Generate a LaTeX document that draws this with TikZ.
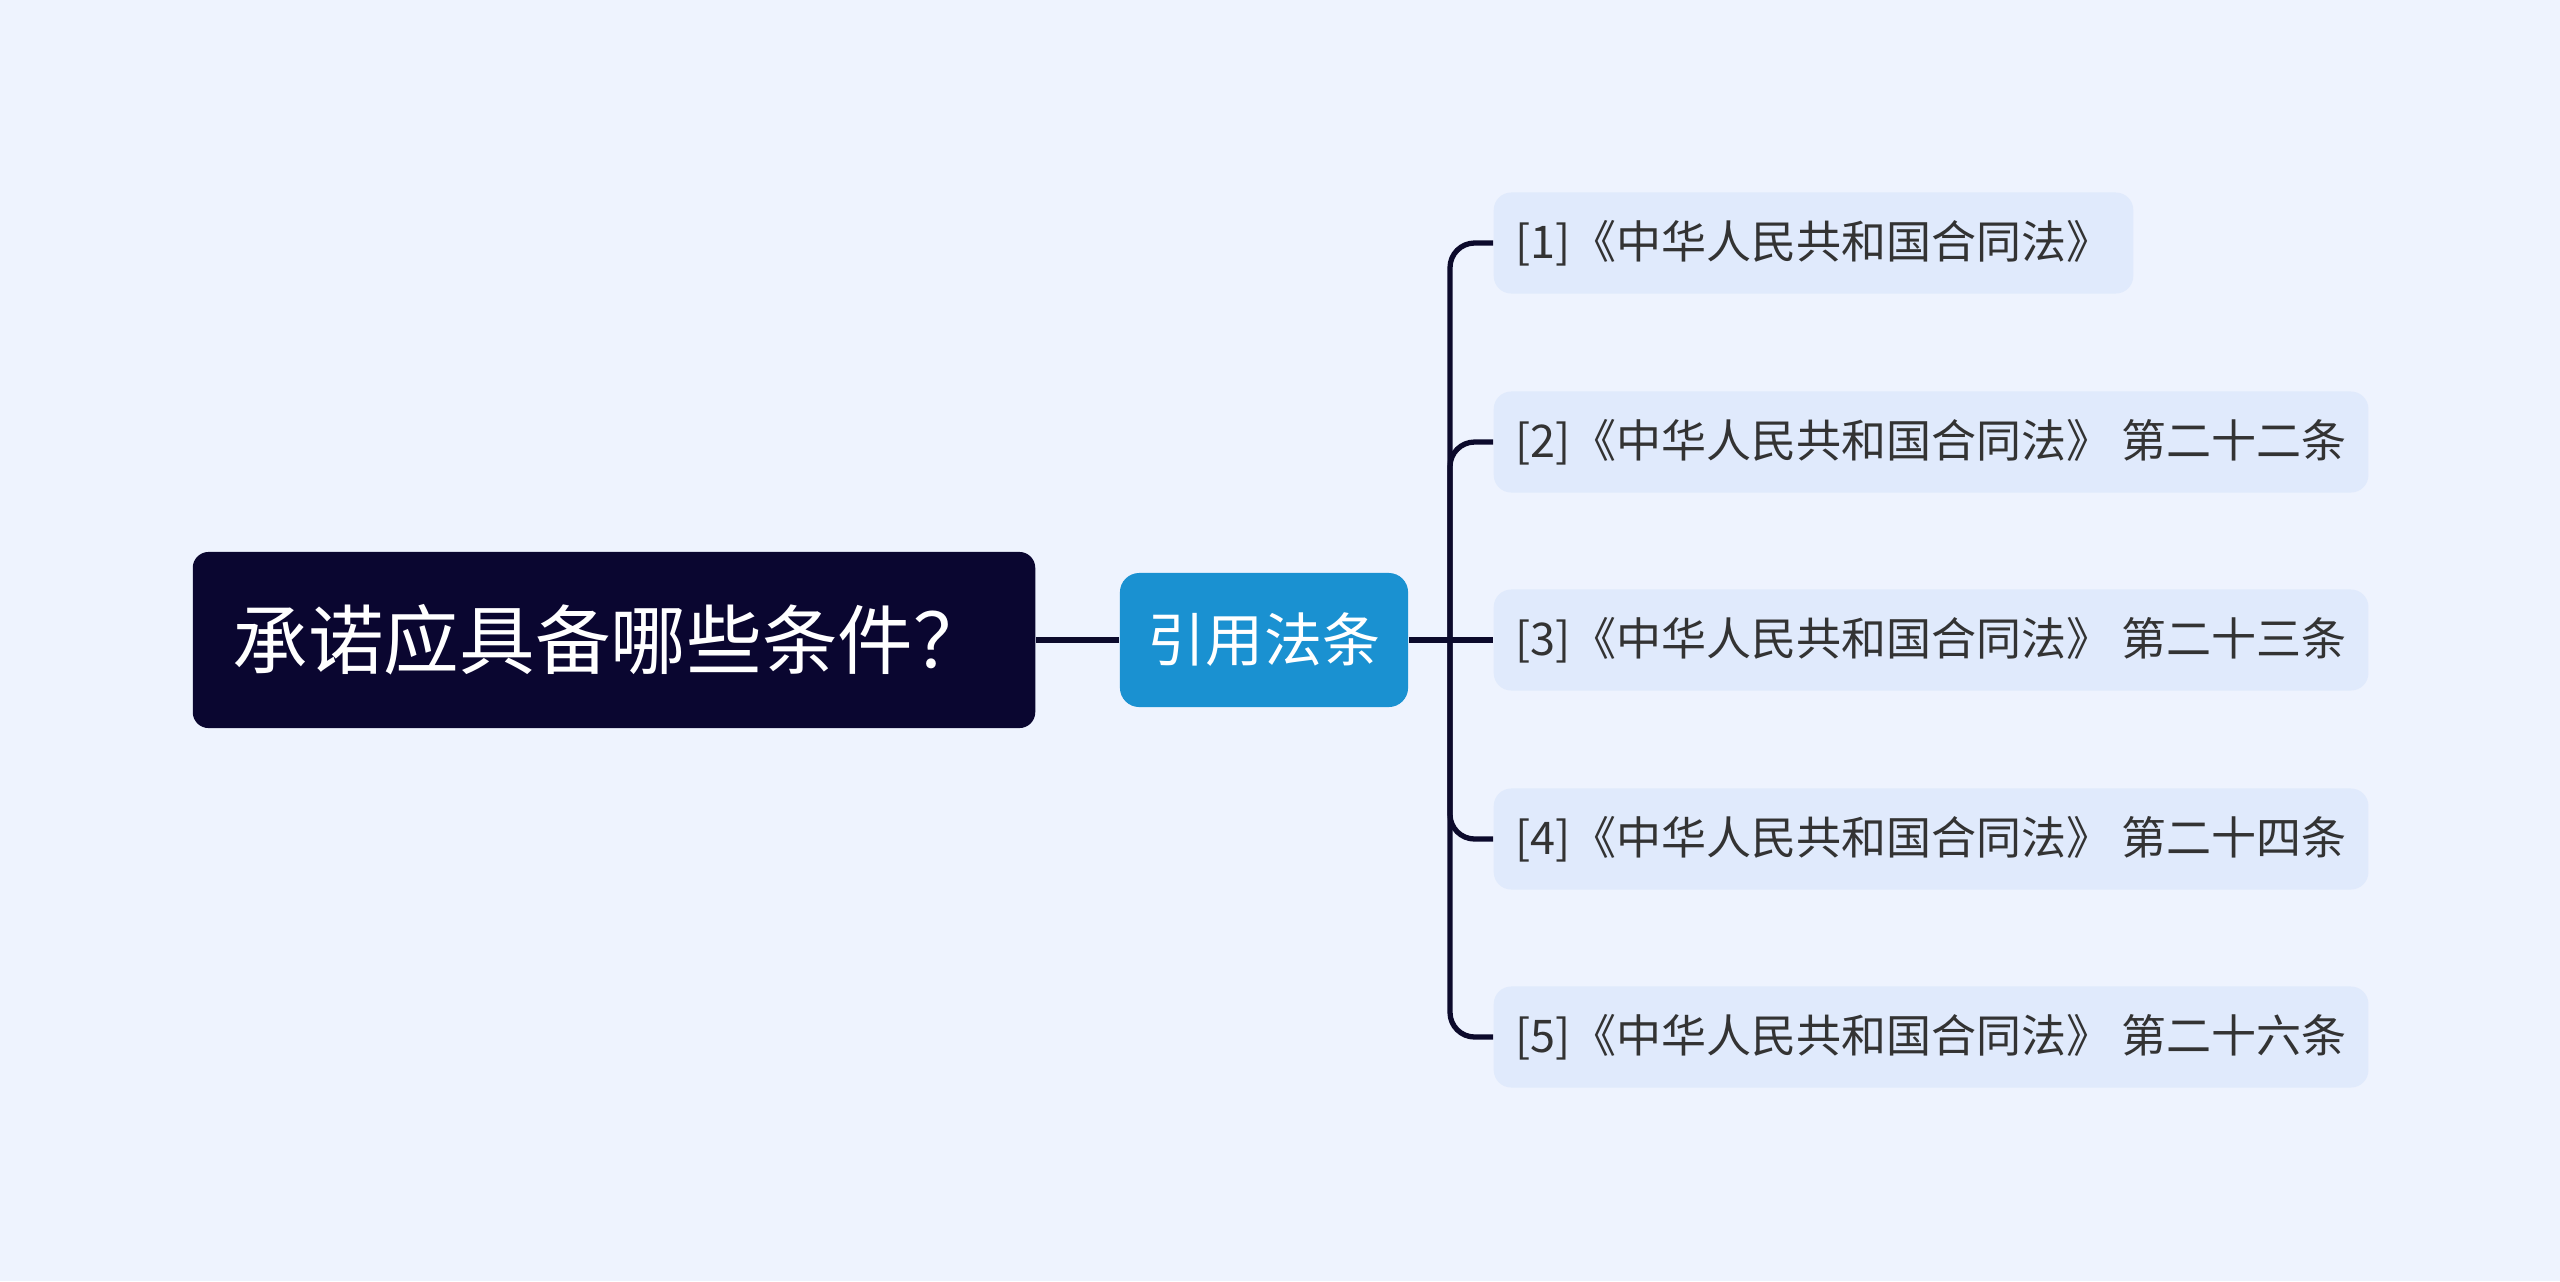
\documentclass[tikz,border=0pt]{standalone}
\usepackage{fontspec}
\setmainfont{Noto Sans CJK SC}
\usepackage{xcolor}
\definecolor{bgblue}{HTML}{EEF3FE}
\definecolor{rootnavy}{HTML}{0A0630}
\definecolor{citeblue}{HTML}{1A91D1}
\definecolor{leaffill}{HTML}{E0EAFC}
\definecolor{leaftext}{HTML}{333333}
\definecolor{linkcol}{HTML}{0C0A2C}

\begin{document}
\begin{tikzpicture}[x=0.01cm,y=-0.01cm,
  rootbox/.style={fill=rootnavy,text=white,rounded corners=4.5pt,font=\fontsize{21.5}{25}\selectfont,
    minimum height=1.76cm,inner xsep=0.4cm,text width=7.62cm,align=left},
  citebox/.style={fill=citeblue,text=white,rounded corners=5.5pt,font=\fontsize{16.5}{20}\selectfont,
    minimum width=2.88cm,minimum height=1.34cm},
  leafbox/.style={fill=leaffill,text=leaftext,rounded corners=5pt,font=\fontsize{12.8}{15}\selectfont,
    minimum height=1.01cm,inner xsep=0.22cm,anchor=west},
  link/.style={draw=linkcol,line width=1.5pt,rounded corners=7pt}]
\fill[bgblue] (0,0) rectangle (2560,1281);
\useasboundingbox (0,0) rectangle (2560,1281);

\node[rootbox] (root) at (614,640) {承诺应具备哪些条件？};
\node[citebox] (cite) at (1264,640) {引用法条};
\coordinate (fork) at (1450,640);

\node[leafbox] (law1) at (1493,243) {[1]《中华人民共和国合同法》};
\node[leafbox] (law2) at (1493,442) {[2]《中华人民共和国合同法》 第二十二条};
\node[leafbox] (law3) at (1493,640) {[3]《中华人民共和国合同法》 第二十三条};
\node[leafbox] (law4) at (1493,839) {[4]《中华人民共和国合同法》 第二十四条};
\node[leafbox] (law5) at (1493,1037) {[5]《中华人民共和国合同法》 第二十六条};

\draw[link] (root.east) -- (cite.west);
\draw[link] (cite.east) -- (law3.west);
\draw[link] (law1.west) -| (fork);
\draw[link] (law2.west) -| (fork);
\draw[link] (law4.west) -| (fork);
\draw[link] (law5.west) -| (fork);
\end{tikzpicture}
\end{document}
